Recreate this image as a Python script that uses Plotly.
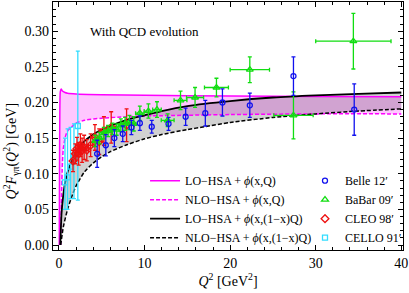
import plotly.graph_objects as go

# ---- theory curves ----
lo_q_q2 = [0.03, 0.06, 0.1, 0.15, 0.25, 0.4, 0.7, 1, 2, 5, 10, 20, 30, 40]
lo_q_val = [0.0, 0.10, 0.19, 0.215, 0.219, 0.216, 0.214, 0.213, 0.212, 0.211, 0.210, 0.209, 0.2085, 0.208]

nlo_q_q2 = [0.2, 0.3, 0.4, 0.5, 0.75, 1, 1.5, 2, 3, 5, 8, 10, 20, 30, 40]
nlo_q_val = [0.0, 0.07, 0.115, 0.135, 0.152, 0.160, 0.166, 0.171, 0.175, 0.178, 0.180, 0.181, 0.183, 0.184, 0.184]

lo_1x_q2 = [0.15, 0.3, 0.5, 0.75, 1, 1.5, 2, 3, 4, 5, 6, 8, 10, 12, 15, 20, 25, 30, 35, 40]
lo_1x_val = [0.0, 0.045, 0.07, 0.09, 0.102, 0.118, 0.130, 0.146, 0.155, 0.162, 0.167, 0.176, 0.182, 0.188, 0.195, 0.202, 0.207, 0.210, 0.212, 0.214]

nlo_1x_q2 = [0.2, 0.5, 1, 1.5, 2, 3, 4, 5, 6, 8, 10, 12, 15, 17, 20, 25, 30, 35, 40]
nlo_1x_val = [0.0, 0.025, 0.05, 0.068, 0.083, 0.103, 0.115, 0.124, 0.131, 0.141, 0.149, 0.155, 0.162, 0.166, 0.172, 0.179, 0.184, 0.188, 0.191]

# ---- experimental data ----
belle_q2 = [4.46, 5.47, 6.47, 7.45, 8.46, 9.45, 10.84, 12.8, 14.8, 17.1, 19.1, 22.3, 27.4, 34.5]
belle_val = [0.128, 0.140, 0.150, 0.156, 0.165, 0.171, 0.166, 0.170, 0.180, 0.185, 0.200, 0.196, 0.237, 0.190]
belle_err = [0.019, 0.015, 0.012, 0.011, 0.010, 0.010, 0.009, 0.009, 0.012, 0.018, 0.019, 0.017, 0.027, 0.036]

babar_q2 = [4.24, 4.74, 5.24, 5.74, 6.24, 6.74, 7.23, 7.73, 8.23, 8.74, 9.45, 10.45, 11.45, 12.7, 14.2, 15.9, 18.4, 22.3, 27.4, 34.4]
babar_val = [0.146, 0.150, 0.157, 0.160, 0.163, 0.162, 0.168, 0.170, 0.172, 0.170, 0.185, 0.188, 0.190, 0.175, 0.203, 0.207, 0.221, 0.246, 0.182, 0.286]
babar_err = [0.008, 0.008, 0.008, 0.008, 0.008, 0.008, 0.009, 0.009, 0.010, 0.010, 0.010, 0.010, 0.011, 0.009, 0.013, 0.014, 0.013, 0.018, 0.033, 0.039]
babar_xerr = [0.25, 0.25, 0.25, 0.25, 0.25, 0.25, 0.25, 0.25, 0.25, 0.25, 0.5, 0.5, 0.5, 0.75, 0.75, 1.0, 1.4, 2.3, 2.3, 4.4]

cleo_q2 = [1.64, 1.91, 2.10, 2.30, 2.50, 2.70, 2.94, 3.25, 3.70, 4.20, 4.70, 5.25, 6.10, 7.90]
cleo_val = [0.118, 0.128, 0.135, 0.128, 0.140, 0.133, 0.137, 0.133, 0.140, 0.151, 0.145, 0.160, 0.165, 0.168]
cleo_err = [0.015, 0.014, 0.016, 0.016, 0.016, 0.017, 0.017, 0.015, 0.016, 0.018, 0.018, 0.020, 0.022, 0.023]
cleo_xerr = [0.1, 0.1, 0.1, 0.1, 0.1, 0.1, 0.15, 0.2, 0.25, 0.25, 0.25, 0.3, 0.5, 0.9]

cello_q2 = [0.70, 1.00, 1.35, 1.75, 2.20]
cello_val = [0.088, 0.095, 0.110, 0.125, 0.167]
cello_eplus = [0.062, 0.068, 0.055, 0.045, 0.105]
cello_eminus = [0.038, 0.045, 0.045, 0.060, 0.104]

MAG = "#FF00FF"
FONT = "Liberation Serif"

fig = go.Figure()

# filled bands
fig.add_trace(go.Scatter(x=nlo_q_q2, y=nlo_q_val, mode="lines", line=dict(width=0, shape="spline", smoothing=0.6),
                         showlegend=False, hoverinfo="skip"))
fig.add_trace(go.Scatter(x=lo_q_q2, y=lo_q_val, mode="lines", line=dict(width=0, shape="spline", smoothing=0.6),
                         fill="tonexty", fillcolor="rgba(255,0,255,0.22)", showlegend=False, hoverinfo="skip"))
fig.add_trace(go.Scatter(x=nlo_1x_q2, y=nlo_1x_val, mode="lines", line=dict(width=0, shape="spline", smoothing=0.6),
                         showlegend=False, hoverinfo="skip"))
fig.add_trace(go.Scatter(x=lo_1x_q2, y=lo_1x_val, mode="lines", line=dict(width=0, shape="spline", smoothing=0.6),
                         fill="tonexty", fillcolor="rgba(0,0,0,0.18)", showlegend=False, hoverinfo="skip"))

# curves
fig.add_trace(go.Scatter(x=lo_q_q2, y=lo_q_val, mode="lines", name="LO−HSA + <i>ϕ</i>(x,Q)",
                         line=dict(color=MAG, width=1.5, shape="spline", smoothing=0.6), legend="legend"))
fig.add_trace(go.Scatter(x=nlo_q_q2, y=nlo_q_val, mode="lines", name="NLO−HSA + <i>ϕ</i>(x,Q)",
                         line=dict(color=MAG, width=1.5, dash="4px,2px", shape="spline", smoothing=0.6), legend="legend"))
fig.add_trace(go.Scatter(x=lo_1x_q2, y=lo_1x_val, mode="lines", name="LO−HSA + <i>ϕ</i>(x,(1−x)Q)",
                         line=dict(color="black", width=1.8, shape="spline", smoothing=0.6), legend="legend"))
fig.add_trace(go.Scatter(x=nlo_1x_q2, y=nlo_1x_val, mode="lines", name="NLO−HSA + <i>ϕ</i>(x,(1−x)Q)",
                         line=dict(color="black", width=1.5, dash="4px,2px", shape="spline", smoothing=0.6), legend="legend"))

def eb(arr, color, arrminus=None):
    d = dict(type="data", array=arr, color=color, thickness=1.3, width=2)
    if arrminus is not None:
        d["arrayminus"] = arrminus
        d["symmetric"] = False
    return d

CELLO_C = "#33DDFF"
CLEO_C = "#EE1111"
BABAR_C = "#11DD11"
BELLE_C = "#1111EE"

fig.add_trace(go.Scatter(x=cello_q2, y=cello_val, mode="markers", name="CELLO 91′",
                         marker=dict(symbol="square-open", size=5, color=CELLO_C, line=dict(width=1.3)),
                         error_y=eb(cello_eplus, CELLO_C, cello_eminus), legend="legend2", legendrank=4))
fig.add_trace(go.Scatter(x=cleo_q2, y=cleo_val, mode="markers", name="CLEO 98′",
                         marker=dict(symbol="diamond-open", size=6, color=CLEO_C, line=dict(width=1.3)),
                         error_y=eb(cleo_err, CLEO_C), error_x=eb(cleo_xerr, CLEO_C), legend="legend2", legendrank=3))
fig.add_trace(go.Scatter(x=babar_q2, y=babar_val, mode="markers", name="BaBar 09′",
                         marker=dict(symbol="triangle-up-open", size=6, color=BABAR_C, line=dict(width=1.3)),
                         error_y=eb(babar_err, BABAR_C), error_x=eb(babar_xerr, BABAR_C), legend="legend2", legendrank=2))
fig.add_trace(go.Scatter(x=belle_q2, y=belle_val, mode="markers", name="Belle 12′",
                         marker=dict(symbol="circle-open", size=5, color=BELLE_C, line=dict(width=1.3)),
                         error_y=eb(belle_err, BELLE_C), legend="legend2", legendrank=1))

axis_common = dict(showline=True, linecolor="black", linewidth=1.3, mirror="ticks", ticks="inside",
                   tickcolor="black", tickwidth=1.2, ticklen=5, showgrid=False, zeroline=False,
                   tickfont=dict(family=FONT, size=14, color="black"))

fig.update_layout(
    width=409, height=293,
    margin=dict(l=53, r=6, t=2, b=43),
    paper_bgcolor="white", plot_bgcolor="white",
    font=dict(family=FONT, size=13, color="black"),
    xaxis=dict(range=[-0.7, 40.2], tickvals=[0, 10, 20, 30, 40],
               minor=dict(ticks="inside", dtick=2, ticklen=2.5, tickcolor="black", tickwidth=1),
               title=dict(text="<i>Q</i><sup>2</sup> [GeV<sup>2</sup>]", font=dict(family=FONT, size=14), standoff=4),
               **axis_common),
    yaxis=dict(range=[-0.007, 0.341], tickvals=[0, 0.05, 0.10, 0.15, 0.20, 0.25, 0.30], tickformat=".2f",
               minor=dict(ticks="inside", dtick=0.01, ticklen=2.5, tickcolor="black", tickwidth=1),
               **axis_common),
    legend=dict(x=0.263, y=0.338, xanchor="left", yanchor="top", bgcolor="rgba(0,0,0,0)",
                font=dict(family=FONT, size=12), tracegroupgap=0, traceorder="normal"),
    legend2=dict(x=0.72, y=0.338, xanchor="left", yanchor="top", bgcolor="rgba(0,0,0,0)",
                 font=dict(family=FONT, size=12), tracegroupgap=0, traceorder="normal"),
    annotations=[
        dict(text="With QCD evolution", x=10.0, y=0.300, xref="x", yref="y", showarrow=False,
             font=dict(family=FONT, size=13)),
        dict(text="<i>Q</i><sup>2</sup><i>F</i><sub>γπ</sub>(<i>Q</i><sup>2</sup>) [GeV]", x=-0.121, y=0.40,
             xref="paper", yref="paper", xanchor="center", yanchor="middle",
             textangle=-90, showarrow=False, font=dict(family=FONT, size=14)),
    ],
)

fig.write_html("out.html", config={"displayModeBar": False},
               post_script="document.body.style.margin='0px';document.body.style.padding='0px';")
